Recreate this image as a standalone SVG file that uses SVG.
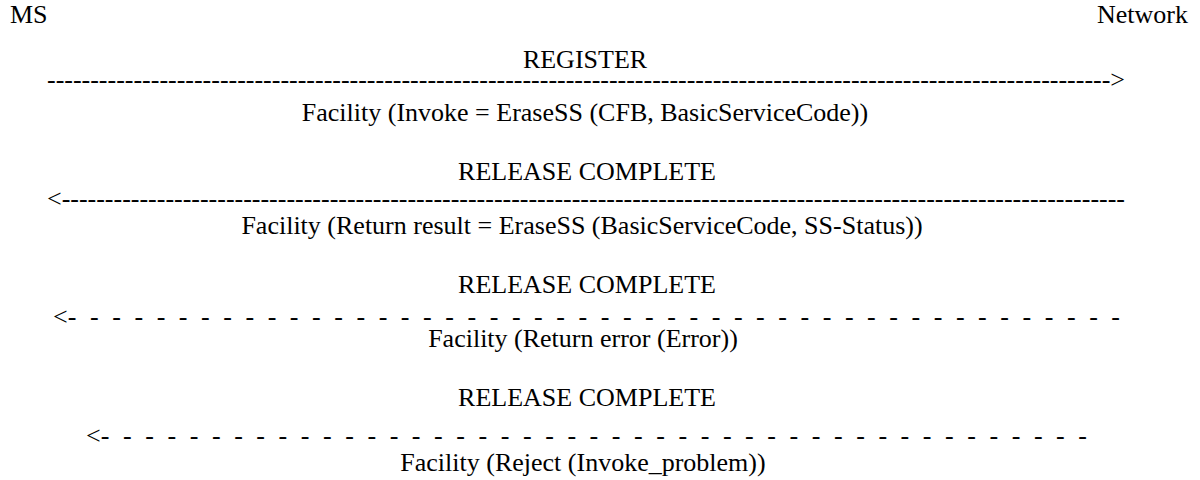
<svg xmlns="http://www.w3.org/2000/svg" width="1200" height="480" viewBox="0 0 1200 480">
<style>
text{font-family:"Liberation Serif","DejaVu Serif",serif;font-size:26px;fill:#000}
.c{text-anchor:middle}
.a{white-space:pre}
</style>
<rect width="1200" height="480" fill="#fff"/>
<g font-family="'Liberation Serif', 'DejaVu Serif', serif">
<g id="ms"><text x="10" y="23">MS</text></g>
<g id="network"><text x="1188" y="23" text-anchor="end">Network</text></g>
<g id="connectors">
<g id="msg1">
<text class="c" x="585" y="68">REGISTER</text>
<text class="a" x="47" y="88" textLength="1078" lengthAdjust="spacing">---------------------------------------------------------------------------------------------------------------------------&gt;</text>
<text class="c" x="585" y="121">Facility (Invoke = EraseSS (CFB, BasicServiceCode))</text>
</g>
<g id="msg2">
<text class="c" x="587" y="180">RELEASE COMPLETE</text>
<text class="a" x="47" y="207" textLength="1078" lengthAdjust="spacing">&lt;---------------------------------------------------------------------------------------------------------------------------</text>
<text class="c" x="582" y="234">Facility (Return result = EraseSS (BasicServiceCode, SS-Status))</text>
</g>
<g id="msg3">
<text class="c" x="587" y="293">RELEASE COMPLETE</text>
<text class="a" xml:space="preserve" x="53" y="325" textLength="1067" lengthAdjust="spacing">&lt;-  -  -  -  -  -  -  -  -  -  -  -  -  -  -  -  -  -  -  -  -  -  -  -  -  -  -  -  -  -  -  -  -  -  -  -  -  -  -  -  -  -  -  -  -  -  -  -</text>
<text class="c" x="583" y="347">Facility (Return error (Error))</text>
</g>
<g id="msg4">
<text class="c" x="587" y="406">RELEASE COMPLETE</text>
<text class="a" xml:space="preserve" x="86" y="444" textLength="1001" lengthAdjust="spacing">&lt;-  -  -  -  -  -  -  -  -  -  -  -  -  -  -  -  -  -  -  -  -  -  -  -  -  -  -  -  -  -  -  -  -  -  -  -  -  -  -  -  -  -  -  -  -</text>
<text class="c" x="583" y="471">Facility (Reject (Invoke_problem))</text>
</g>
</g>
</g>
</svg>
